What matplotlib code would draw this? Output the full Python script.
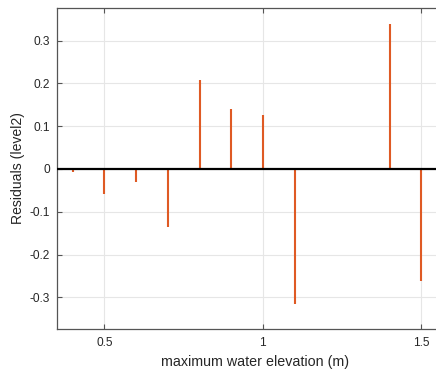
import matplotlib
matplotlib.use("Agg")
import matplotlib.pyplot as plt

# Residuals of the level-2 fit against maximum water elevation
elevation = [0.4, 0.5, 0.6, 0.7, 0.8, 0.9, 1.0, 1.1, 1.4, 1.5]
residuals = [-0.007, -0.058, -0.031, -0.136, 0.207, 0.139, 0.127, -0.315, 0.339, -0.261]

x_ticks = [0.5, 1.0, 1.5]
x_tick_labels = ["0.5", "1", "1.5"]
y_ticks = [-0.3, -0.2, -0.1, 0.0, 0.1, 0.2, 0.3]
y_tick_labels = ["-0.3", "-0.2", "-0.1", "0", "0.1", "0.2", "0.3"]

plt.rcParams["font.family"] = ["Liberation Sans", "DejaVu Sans"]
plt.rcParams["axes.unicode_minus"] = False

fig = plt.figure(figsize=(4.36, 3.76), dpi=100)
# the axes run past the right edge of the canvas
ax = fig.add_axes([0.1307, 0.125, 0.908, 0.8537])

stem_color = "#DF5A24"
ax.vlines(elevation, 0, residuals, colors=stem_color, linewidth=1.5, zorder=3)
ax.axhline(0, color="black", linewidth=1.6, zorder=4)

ax.set_xlim(0.35, 1.6)
ax.set_ylim(-0.374, 0.376)
ax.set_xticks(x_ticks)
ax.set_xticklabels(x_tick_labels)
ax.set_yticks(y_ticks)
ax.set_yticklabels(y_tick_labels)

ax.grid(True, color="#e6e6e6", linewidth=0.8, zorder=0)
ax.set_axisbelow(True)

for side in ("left", "bottom", "top"):
    ax.spines[side].set_color("#555555")
    ax.spines[side].set_linewidth(0.9)
ax.spines["right"].set_visible(False)

ax.tick_params(axis="both", direction="in", length=3.5, width=0.8,
               color="#555555", labelcolor="#262626", labelsize=8.6,
               top=True, right=False)
ax.tick_params(axis="x", pad=6)
ax.tick_params(axis="y", pad=5)

ax.set_xlabel("maximum water elevation (m)", fontsize=10.3, color="#262626", labelpad=4)
ax.set_ylabel("Residuals (level2)", fontsize=10.1, color="#262626", labelpad=3)

fig.savefig("out.png", dpi=100)
